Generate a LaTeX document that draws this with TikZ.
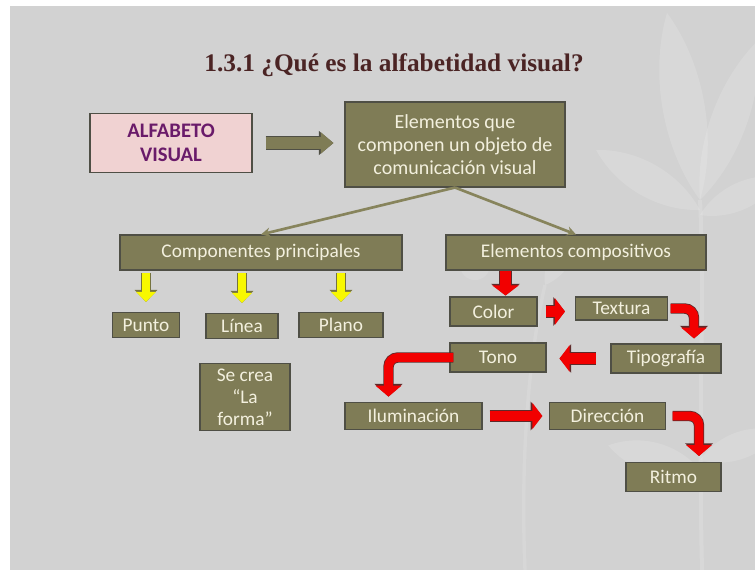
\documentclass[tikz,border=0pt]{standalone}
\usepackage{fontspec}
\setmainfont{Carlito}
\newfontfamily\titlefont{Liberation Serif}
\usetikzlibrary{arrows.meta,positioning,calc}

\definecolor{slidegray}{HTML}{D2D2D2}
\definecolor{boxolive}{HTML}{7F7C56}
\definecolor{boxedge}{HTML}{4F4F45}
\definecolor{boxtext}{HTML}{F3F0DE}
\definecolor{titlered}{HTML}{4B2424}
\definecolor{pinkfill}{HTML}{F0D2D2}
\definecolor{purpletext}{HTML}{6A1B6A}
\definecolor{linkolive}{HTML}{87845C}
\definecolor{arrowred}{HTML}{F20000}
\definecolor{rededge}{HTML}{5E2A2A}
\definecolor{arrowyellow}{HTML}{F8F800}
\definecolor{yellowedge}{HTML}{75733F}

% pale leaf: position, angle, length, half width
\newcommand{\plantleaf}[4]{%
  \fill[white, opacity=0.14, shift={#1}, rotate=#2]
    (0,0) .. controls (#3*0.3,#4) and (#3*0.7,#4) .. (#3,0)
          .. controls (#3*0.7,-#4) and (#3*0.3,-#4) .. (0,0);}

\tikzset{
  box/.style={draw=boxedge, line width=0.8pt, fill=boxolive, text=boxtext,
    inner sep=0pt, align=center, font=\fontsize{14.5}{17}\selectfont},
  link/.style={draw=linkolive, line width=2pt, -{Stealth[length=7pt,width=7pt]}},
  olivearrow/.style={preaction={draw=boxedge, line width=10pt,
      -{Triangle[length=11pt,width=17.5pt]}},
    draw=boxolive, line width=8.5pt, -{Triangle[length=9.5pt,width=15.5pt]}},
  yarrow/.style={preaction={draw=yellowedge, line width=8pt,
      -{Triangle[length=9pt,width=16.5pt]}},
    draw=arrowyellow, line width=6.5pt, -{Triangle[length=7.5pt,width=14.5pt]}},
  redarrow/.style={preaction={draw=rededge, line width=9.2pt,
      -{Triangle[length=8.7pt,width=21pt]}},
    draw=arrowred, line width=8pt, -{Triangle[length=7.5pt,width=19.5pt]}},
  redelbow/.style={rounded corners=7pt, preaction={draw=rededge, line width=7.8pt,
      -{Triangle[length=9.5pt,width=20.5pt]}},
    draw=arrowred, line width=6.6pt, -{Triangle[length=8.2pt,width=19pt]}},
}

\begin{document}
\begin{tikzpicture}[x=0.75pt, y=-0.75pt]
  \useasboundingbox (0,0) rectangle (755,570);
  \fill[white] (0,0) rectangle (755,570);
  \fill[slidegray] (10,6) rectangle (755,570);

  % plant in the background
  \draw[white, opacity=0.15, line width=3pt] (702,570) .. controls (698,400) and (705,300) .. (700,200);
  \draw[white, opacity=0.13, line width=2.5pt] (525,570) .. controls (520,450) and (530,350) .. (545,285);
  \plantleaf{(700,200)}{100}{190}{28}
  \plantleaf{(700,200)}{70}{170}{24}
  \plantleaf{(700,210)}{150}{120}{22}
  \plantleaf{(700,215)}{25}{90}{18}
  \plantleaf{(700,460)}{20}{85}{18}
  \plantleaf{(700,470)}{165}{95}{20}
  \plantleaf{(545,285)}{60}{60}{14}
  \fill[white, opacity=0.13] (475,265) circle (15);

  \node[font=\titlefont\bfseries\fontsize{19}{23}\selectfont, text=titlered, anchor=base]
    (title) at (394,71.5) {1.3.1 ¿Qué es la alfabetidad visual?};

  \node[draw=boxedge, line width=0.8pt, fill=pinkfill, text=purpletext, align=center,
    font=\bfseries\fontsize{15.5}{18}\selectfont, minimum width=121.5pt, minimum height=44.25pt]
    (alfa) at (171,143) {ALFABETO\\VISUAL};
  \node[box, font=\fontsize{15}{17.5}\selectfont, minimum width=165pt, minimum height=63.75pt]
    (elem) at (455,144.5) {Elementos que\\componen un objeto de\\comunicación visual};

  \node[box, minimum width=211.5pt, minimum height=26.25pt] (comp) at (261,252.5) {Componentes principales};
  \node[box, minimum width=195pt, minimum height=26.25pt] (compo) at (576,252.5) {Elementos compositivos};

  % componentes principales
  \node[box, minimum width=50.25pt, minimum height=18.75pt] (punto) at (146,325) {Punto};
  \node[box, minimum width=54pt, minimum height=18.75pt] (linea) at (242,326) {Línea};
  \node[box, minimum width=63pt, minimum height=18.75pt] (plano) at (341,325) {Plano};
  \node[box, font=\fontsize{14.5}{16.5}\selectfont, minimum width=67.5pt, minimum height=50.25pt]
    (forma) at (245,397) {Se crea\\“La\\forma”};

  % elementos compositivos
  \node[box, minimum width=65.25pt, minimum height=21.75pt] (color) at (493.5,311.5) {Color};
  \node[box, minimum width=69pt, minimum height=17.25pt] (textura) at (621.5,308.5) {Textura};
  \node[box, minimum width=82.5pt, minimum height=21.75pt] (tipo) at (666,358.5) {Tipografía};
  \node[box, minimum width=72pt, minimum height=21.75pt] (tono) at (498,357.5) {Tono};
  \node[box, minimum width=102.75pt, minimum height=20.25pt] (ilum) at (413.5,416) {Iluminación};
  \node[box, minimum width=87pt, minimum height=20.25pt] (dir) at (607.5,416) {Dirección};
  \node[box, minimum width=71.25pt, minimum height=21.75pt] (ritmo) at (673.5,477) {Ritmo};

  \draw[olivearrow, shorten <=9.75pt, shorten >=8.25pt] (alfa.east) -- (alfa.east -| elem.west);
  \draw[link] (elem.south) -- (comp.north);
  \draw[link] (elem.south) -- (compo.north);

  \draw[yarrow, shorten <=2pt, shorten >=7.5pt] (comp.south -| punto.north) -- (punto.north);
  \draw[yarrow, shorten <=2pt, shorten >=7.5pt] (comp.south -| linea.north) -- (linea.north);
  \draw[yarrow, shorten <=2pt, shorten >=7.5pt] (comp.south -| plano.north) -- (plano.north);

  \draw[redarrow] ($(color.north)+(12,-25)$) -- ($(color.north)+(12,-1)$);
  \draw[redarrow, shorten <=6pt, shorten >=7.5pt] (color.east) -- (color.east -| textura.west);
  \draw[redelbow, shorten <=2pt, shorten >=3.75pt] (textura.east) -| ($(tipo.north)+(28,0)$);
  \draw[redarrow, shorten <=11pt, shorten >=9.75pt] (tipo.west) -- (tipo.west -| tono.east);
  \draw[redelbow, shorten <=-3pt, shorten >=4pt] (tono.west) -| ($(ilum.north)+(-25,0)$);
  \draw[redarrow, shorten <=5.25pt, shorten >=5pt] (ilum.east) -- (ilum.east -| dir.west);
  \draw[redelbow, shorten <=5pt, shorten >=4.5pt] (dir.east) -| ($(ritmo.north)+(25.5,0)$);
\end{tikzpicture}
\end{document}
